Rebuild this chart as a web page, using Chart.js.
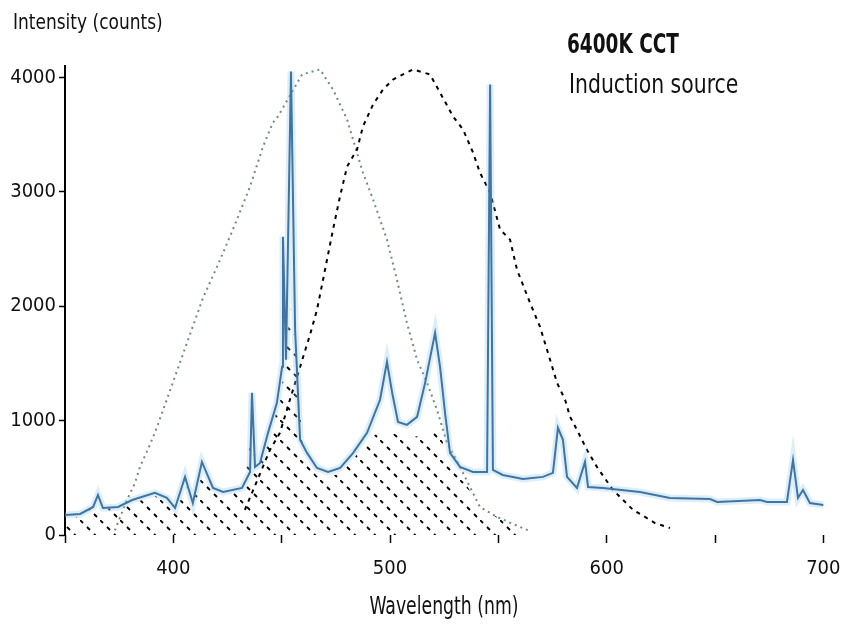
<!DOCTYPE html>
<html>
<head>
<meta charset="utf-8">
<script src="https://cdn.jsdelivr.net/npm/chart.js@4"></script>
<style>
  html, body { margin: 0; padding: 0; background: #fff; overflow: hidden; }
  #clip { width: 842px; height: 630px; overflow: hidden; position: relative; }
  /* the plot runs off the right edge in the original, so the canvas is a bit wider */
  #wrap { width: 880px; height: 630px; position: relative; }
</style>
</head>
<body>
<div id="clip"><div id="wrap"><canvas id="spectrum"></canvas></div></div>
<script>
// Spectrum of a 6400K induction lamp

const spectrumWl = [350, 357, 363, 365.2, 367.5, 374.5, 381, 391.5, 397, 400.8, 405.4, 409, 413.2, 418.3, 423, 431.7, 435.4, 436.3, 437.7, 440, 443.7, 447.8, 450.2, 450.6, 452, 454.3, 456.2, 458.5, 461.7, 466.3, 471.4, 477, 483, 489.4, 495.4, 498.6, 501, 503.7, 507.8, 512.5, 516.2, 520.8, 523.1, 525.4, 527.7, 532.3, 538.3, 544.8, 546.2, 547.5, 552, 561.4, 570.6, 575.2, 577.5, 579.8, 581.7, 586.3, 590, 591.4, 598.3, 615.4, 629.2, 647.7, 651, 670.8, 674, 683.2, 686, 688.3, 690.6, 693.8, 700];
const spectrumCounts = [175, 184, 245, 350, 236, 245, 306, 368, 324, 236, 508, 280, 639, 411, 376, 411, 551, 1243, 595, 630, 893, 1155, 1470, 2608, 1532, 4052, 1794, 832, 718, 586, 551, 586, 718, 893, 1182, 1514, 1243, 989, 963, 1033, 1330, 1768, 1470, 1068, 718, 595, 551, 551, 3939, 569, 525, 490, 508, 543, 937, 832, 508, 411, 639, 420, 411, 376, 324, 315, 289, 306, 289, 289, 656, 324, 394, 280, 263];

// green dotted curve
const greenWl = [373, 378.6, 382.3, 384.6, 389.2, 392.5, 413.7, 420.2, 427.5, 435.4, 441.4, 446, 448.3, 459.4, 467.7, 473.7, 480.2, 487.5, 492.2, 498.6, 503.2, 507.8, 512.5, 517.1, 521.7, 526.3, 532.3, 541.5, 549.4, 560, 564.6];
const greenCounts = [40, 306, 455, 595, 788, 945, 2074, 2346, 2670, 3046, 3396, 3606, 3659, 4026, 4070, 3895, 3632, 3168, 2932, 2582, 2232, 1856, 1532, 1330, 1094, 805, 595, 245, 158, 70, 35];

// black dashed curve
const blackWl = [433, 444.6, 449.2, 453.8, 458.5, 463.1, 466.3, 469.1, 473.7, 476.9, 480.2, 484.8, 487.5, 492.2, 496.8, 501.4, 510.6, 518.5, 529.1, 533.7, 538.3, 541.5, 546.2, 550.8, 555.4, 558.6, 564.6, 569.2, 572.9, 577.1, 580.8, 583.1, 586.3, 590.9, 595.5, 602.9, 612.2, 617.7, 622.3, 629.2];
const blackCounts = [219, 744, 893, 1182, 1470, 1751, 1969, 2232, 2670, 2958, 3221, 3370, 3571, 3764, 3895, 3982, 4070, 4026, 3659, 3545, 3344, 3168, 2993, 2670, 2582, 2320, 2031, 1821, 1593, 1330, 1182, 1033, 919, 744, 595, 394, 219, 158, 105, 61];

// upper edge of the hatched region
const hatchWl = [350, 357, 365, 368, 381, 391.5, 397, 401, 405.4, 409, 413.2, 418.3, 432, 436.3, 438, 444, 448, 451, 454, 457, 460, 466, 471, 477, 483, 489, 495, 500, 505, 512, 518, 522, 526, 532, 541.5, 549.4, 560, 565];
const hatchCounts = [150, 160, 300, 220, 280, 340, 300, 220, 460, 260, 580, 380, 390, 900, 560, 850, 1100, 1400, 2000, 1500, 700, 520, 500, 540, 660, 820, 900, 900, 860, 860, 900, 950, 720, 540, 245, 158, 70, 0];

const xTicks = [350, 400, 450, 500, 550, 600, 650, 700];
const xLabels = ['', '400', '', '500', '', '600', '', '700'];
const yTicks = [0, 1000, 2000, 3000, 4000];

const FONT = "'DejaVu Sans Condensed', 'DejaVu Sans', sans-serif";

function pts(xs, ys) {
  return xs.map((x, i) => ({ x, y: ys[i] }));
}

function hatchPattern() {
  const c = document.createElement('canvas');
  c.width = 20; c.height = 20;
  const g = c.getContext('2d');
  g.strokeStyle = '#000';
  g.lineWidth = 1.8;
  g.beginPath();
  for (let i = 0; i < 20; i += 7) {
    g.moveTo(i, i);
    g.lineTo(i + 3, i + 3);
  }
  g.stroke();
  return g.createPattern(c, 'repeat');
}

// narrow text: the original uses a condensed face
function narrowText(c, text, x, y, font, sx, align) {
  c.save();
  c.font = font;
  c.textAlign = align || 'left';
  c.translate(x, y);
  c.scale(sx, 1);
  c.fillText(text, 0, 0);
  c.restore();
}

const labels = {
  id: 'labels',
  afterDraw(chart) {
    const c = chart.ctx;
    c.save();
    c.fillStyle = '#111';
    c.textBaseline = 'middle';
    narrowText(c, 'Intensity (counts)', 13, 23, '22px ' + FONT, 0.86);
    narrowText(c, '6400K CCT', 567, 46, 'bold 26px ' + FONT, 0.79);
    narrowText(c, 'Induction source', 569, 86, '27px ' + FONT, 0.84);
    narrowText(c, 'Wavelength (nm)', 444, 608, '24px ' + FONT, 0.8, 'center');
    c.restore();
  }
};

new Chart(document.getElementById('spectrum'), {
  type: 'line',
  data: {
    datasets: [
      {
        data: pts(spectrumWl, spectrumCounts),
        borderColor: '#3f74a3',
        borderWidth: 2,
        pointRadius: 0,
        order: 0
      },
      {
        data: pts(spectrumWl, spectrumCounts),
        borderColor: 'rgba(140, 200, 240, 0.3)',
        borderWidth: 7,
        pointRadius: 0,
        order: 1
      },
      {
        data: pts(blackWl, blackCounts),
        borderColor: '#000',
        borderWidth: 2,
        borderDash: [4, 5],
        pointRadius: 0,
        order: 2
      },
      {
        data: pts(greenWl, greenCounts),
        borderColor: '#6e8f70',
        borderWidth: 2,
        borderDash: [2, 4],
        pointRadius: 0,
        order: 3
      },
      {
        data: pts(hatchWl, hatchCounts),
        borderWidth: 0,
        borderColor: 'rgba(0,0,0,0)',
        backgroundColor: hatchPattern(),
        fill: 'origin',
        pointRadius: 0,
        order: 4
      }
    ]
  },
  options: {
    responsive: true,
    maintainAspectRatio: false,
    animation: false,
    layout: { padding: { top: 66, right: 0, left: 0, bottom: 0 } },
    plugins: { legend: { display: false }, tooltip: { enabled: false } },
    scales: {
      x: {
        type: 'linear',
        min: 350,
        max: 726.15,
        afterBuildTicks: s => { s.ticks = xTicks.map(v => ({ value: v })); },
        afterFit: s => { s.height = 95; },
        border: { display: false },
        grid: { drawOnChartArea: false, drawTicks: true, tickLength: 8, tickColor: '#000', tickWidth: 1.5 },
        ticks: {
          autoSkip: false,
          padding: 14,
          color: '#111',
          font: { family: FONT, size: 20 },
          maxRotation: 0,
          callback: (v, i) => xLabels[i]
        }
      },
      y: {
        min: 0,
        max: 4100,
        afterBuildTicks: s => { s.ticks = yTicks.map(v => ({ value: v })); },
        afterFit: s => { s.width = 65; },
        border: { display: true, color: '#000', width: 2 },
        grid: { drawOnChartArea: false, drawTicks: true, tickLength: 6, tickColor: '#000', tickWidth: 1.5 },
        ticks: {
          autoSkip: false,
          padding: 3,
          color: '#111',
          font: { family: FONT, size: 20 },
          callback: v => String(v)
        }
      }
    }
  },
  plugins: [labels]
});
</script>
</body>
</html>
